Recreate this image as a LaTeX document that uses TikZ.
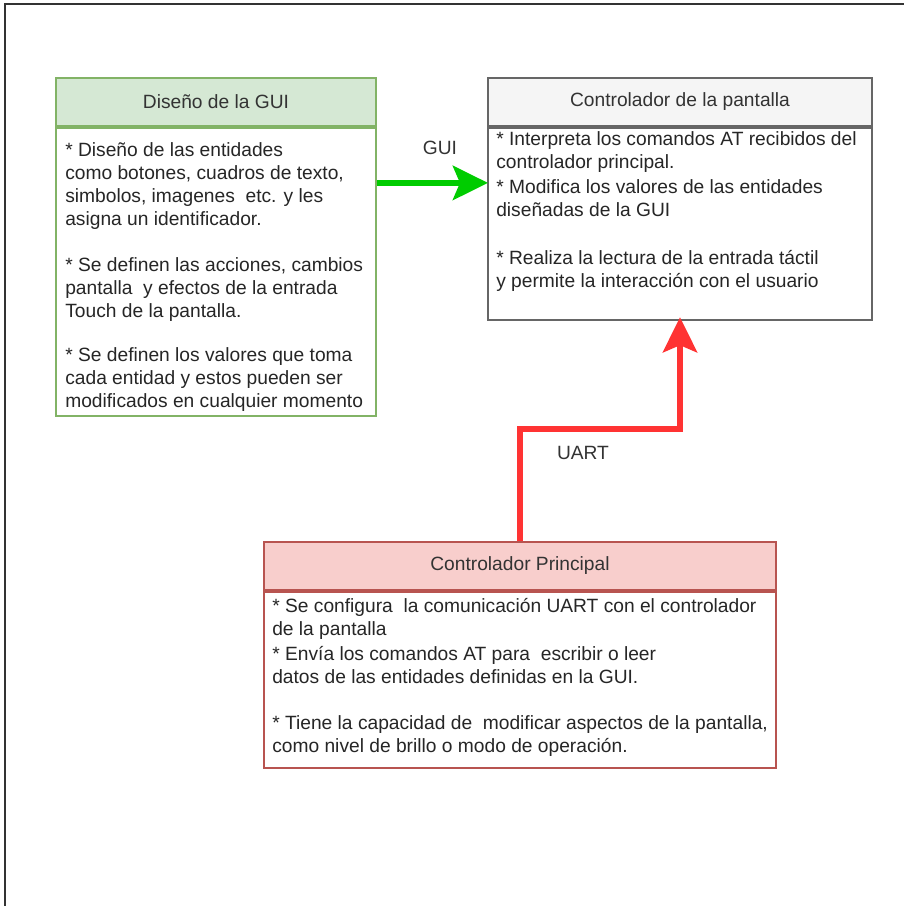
\documentclass[tikz,border=0pt]{standalone}
\usepackage{fontspec}
\setmainfont{Liberation Sans}
\usetikzlibrary{arrows.meta,positioning,calc}

\definecolor{guifill}{HTML}{D5E8D4}
\definecolor{guiline}{HTML}{82B366}
\definecolor{pantfill}{HTML}{F5F5F5}
\definecolor{pantline}{HTML}{666666}
\definecolor{ppalfill}{HTML}{F8CECC}
\definecolor{ppalline}{HTML}{B85450}
\definecolor{guiarrow}{HTML}{00CC00}
\definecolor{uartarrow}{HTML}{FF3333}
\definecolor{txtgray}{HTML}{333333}

\begin{document}
\begin{tikzpicture}[x=1pt,y=-1pt,
    every node/.style={font=\fontsize{19.2}{23}\selectfont, text=txtgray},
    header/.style={draw, line width=1.8pt, minimum height=48pt, inner sep=0pt},
    panel/.style={draw, line width=1.8pt, fill=white, inner sep=0pt, anchor=north},
    bodytxt/.style={anchor=base west, inner sep=0pt, text=black!85},
    link/.style={line width=6.5pt, -{Stealth[length=35pt,width=34pt,inset=7pt]}}
]
    \useasboundingbox (0,0) rectangle (904,906);

    % page frame
    \draw[txtgray, line width=1.5pt] (5,906) -- (5,4) -- (904,4);

    % diseno de la GUI
    \node[header, fill=guifill, draw=guiline, minimum width=320pt] (gui) at (216,102) {Diseño de la GUI};
    \node[panel, draw=guiline, minimum width=320pt, minimum height=288pt] (guibody) at (gui.south) {};
    \node[bodytxt] (guitext) at ($(guibody.north west)+(10,30)$) {\parbox[t]{310pt}{%
        * Diseño de las entidades\\
        como botones, cuadros de texto,\\
        simbolos, imagenes\ \ etc. y les\\
        asigna un identificador.\\[23pt]
        * Se definen las acciones, cambios\\
        pantalla\ \ y efectos de la entrada\\
        Touch de la pantalla.\\[21pt]
        * Se definen los valores que toma\\
        cada entidad y estos pueden ser\\
        modificados en cualquier momento}};

    % controlador de la pantalla
    \node[header, fill=pantfill, draw=pantline, minimum width=384pt] (pant) at (680,102) {Controlador de la pantalla};
    \node[panel, draw=pantline, minimum width=384pt, minimum height=192pt] (pantbody) at (pant.south) {};
    \node[bodytxt] (panttext) at ($(pantbody.north west)+(9,19)$) {\parbox[t]{370pt}{%
        * Interpreta los comandos AT recibidos del\\
        controlador principal.\\[2pt]
        * Modifica los valores de las entidades\\
        diseñadas de la GUI\\[25pt]
        * Realiza la lectura de la entrada táctil\\
        y permite la interacción con el usuario}};

    % controlador principal
    \node[header, fill=ppalfill, draw=ppalline, minimum width=512pt] (ppal) at (520,566) {Controlador Principal};
    \node[panel, draw=ppalline, minimum width=512pt, minimum height=176pt] (ppalbody) at (ppal.south) {};
    \node[bodytxt] (ppaltext) at ($(ppalbody.north west)+(9,22)$) {\parbox[t]{500pt}{%
        * Se configura\ \ la comunicación UART con el controlador\\
        de la pantalla\\[2pt]
        * Envía los comandos AT para\ \ escribir o leer\\
        datos de las entidades definidas en la GUI.\\[23pt]
        * Tiene la capacidad de\ \ modificar aspectos de la pantalla,\\
        como nivel de brillo o modo de operación.}};

    % GUI link
    \coordinate (guiout) at ($(guibody.north east)+(0,56)$);
    \draw[link, guiarrow, shorten >=-0.9pt] (guiout) -- (guiout -| pantbody.west);
    \node (guilbl) at (440,148) {GUI};

    % UART link
    \draw[link, uartarrow, shorten >=-3.5pt] (ppal.north) -- ++(0,-112) -| (pantbody.south);
    \node (uartlbl) at (583,453) {UART};

\end{tikzpicture}
\end{document}
